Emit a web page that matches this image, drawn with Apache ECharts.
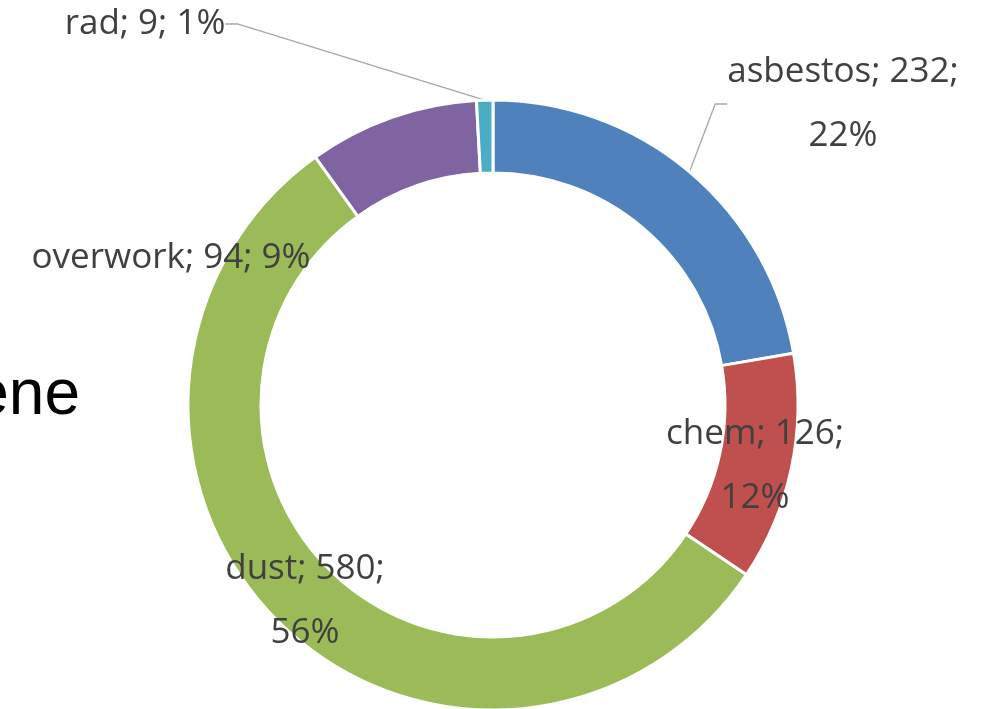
<!DOCTYPE html>
<html>
<head>
<meta charset="utf-8">
<script src="https://cdn.jsdelivr.net/npm/echarts@6/dist/echarts.min.js"></script>
<style>
  html, body { margin: 0; padding: 0; background: #fff; }
  #chart { width: 981px; height: 709px; }
</style>
</head>
<body>
<div id="chart"></div>
<script>
const categories = ['asbestos', 'chem', 'dust', 'overwork', 'rad'];
const counts = [232, 126, 580, 94, 9];
const colors = ['#4F81BD', '#C0504D', '#9BBB59', '#8064A2', '#4BACC6'];

// where each label sits (centre of text block) and whether it wraps / has a leader line
const labelPos = [[843, 104], [755, 466], [305, 601], [171, 258], [145, 24]];
const wrapped = [true, true, true, false, false];
const withLine = [true, false, false, false, true];

const chart = echarts.init(document.getElementById('chart'));

const option = {
  animation: false,
  graphic: [
    {
      type: 'text',
      x: 80,
      y: 396,
      style: {
        text: 'zene',
        fontSize: 64,
        fontFamily: '"Liberation Sans", Arial, sans-serif',
        fill: '#000',
        align: 'right',
        verticalAlign: 'middle'
      }
    }
  ],
  series: [
    {
      type: 'pie',
      center: [493, 405],
      radius: [232, 305],
      startAngle: 90,
      clockwise: true,
      avoidLabelOverlap: false,
      itemStyle: { borderColor: '#fff', borderWidth: 3 },
      label: {
        show: true,
        position: 'outside',
        color: '#404040',
        fontFamily: '"Open Sans", "Noto Sans", sans-serif',
        fontSize: 35,
        lineHeight: 64,
        align: 'center',
        formatter: (p) => {
          const pct = Math.round(p.percent) + '%';
          return p.name + '; ' + p.value + ';' + (wrapped[p.dataIndex] ? '\n' : ' ') + pct;
        }
      },
      labelLine: {
        show: true,
        length: 10,
        length2: 12,
        smooth: false,
        lineStyle: { color: '#A6A6A6', width: 1.3 }
      },
      labelLayout: (p) => {
        const [cx, cy] = labelPos[p.dataIndex];
        return {
          x: cx,
          y: cy,
          align: 'center',
          verticalAlign: 'middle'
        };
      },
      data: categories.map((name, i) => ({
        name,
        value: counts[i],
        itemStyle: { color: colors[i] },
        labelLine: { show: withLine[i] }
      }))
    }
  ]
};

chart.setOption(option);
</script>
</body>
</html>
